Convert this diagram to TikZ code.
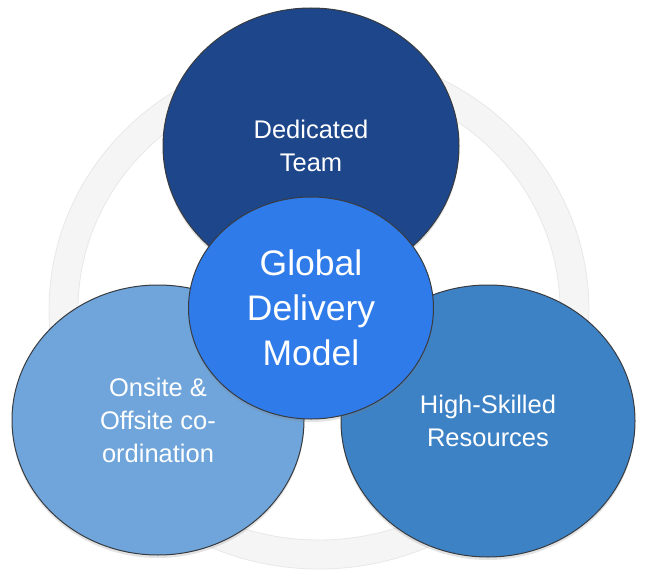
\documentclass[tikz,border=0pt]{standalone}
\usepackage{fontspec}
\setmainfont{Liberation Sans}
\usetikzlibrary{shapes.geometric,shadows}

\definecolor{teamblue}{HTML}{1E468A}
\definecolor{hubblue}{HTML}{2F7BEA}
\definecolor{siteblue}{HTML}{6FA5DA}
\definecolor{skillblue}{HTML}{3D82C5}
\definecolor{rimgray}{HTML}{F5F5F6}
\definecolor{edgegray}{HTML}{383B40}

\begin{document}
\begin{tikzpicture}[x=1pt,y=-1pt]

% --- Global TikZ Styles for Consistency ---
\tikzset{
    bubble/.style={ellipse, draw=edgegray, line width=1pt, inner sep=0pt,
        text=white, align=center,
        drop shadow={opacity=0.22, shadow xshift=0pt, shadow yshift=-3pt}},
    ringband/.style={fill=rimgray, draw=black!9, line width=0.8pt, even odd rule},
    sideText/.style={font=\fontsize{25.5}{33}\selectfont},
    hubText/.style={font=\fontsize{35.5}{45}\selectfont}
}

    \useasboundingbox (0,0) rectangle (645,583);

    % Ring behind everything
    \coordinate (hub) at (319,310);
    \path[ringband] (hub) ellipse (270pt and 259pt) (hub) ellipse (241pt and 230pt);

    % Outer bubbles
    \node[bubble, fill=teamblue, sideText, minimum width=296pt, minimum height=276pt]
        (team) at (311,146) {Dedicated\\Team};
    \node[bubble, fill=siteblue, sideText, minimum width=292pt, minimum height=270pt]
        (site) at (158,420) {Onsite \&\\Offsite co-\\ordination};
    \node[bubble, fill=skillblue, sideText, minimum width=294pt, minimum height=272pt]
        (skill) at (488,421) {High-Skilled\\Resources};

    % Centre bubble
    \node[bubble, fill=hubblue, hubText, minimum width=245pt, minimum height=222pt]
        (model) at (311,308) {Global\\Delivery\\Model};

\end{tikzpicture}
\end{document}
